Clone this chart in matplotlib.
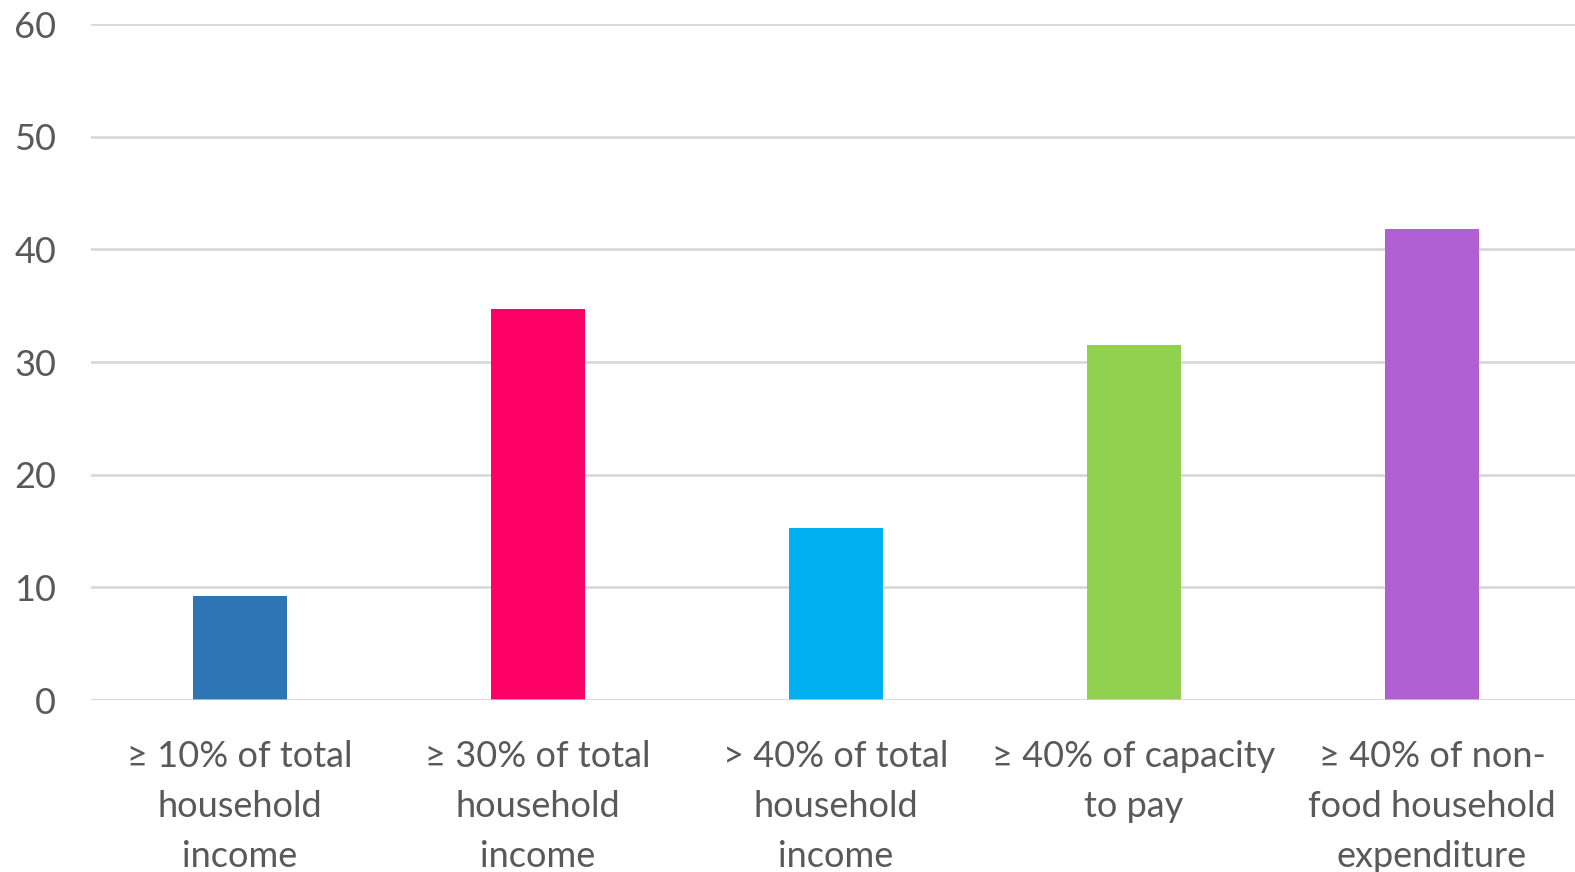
import numpy as np
import matplotlib.pyplot as plt

plt.rcParams['font.family'] = ['Lato', 'DejaVu Sans']

categories = [
    "\u2265 10% of total\nhousehold\nincome",
    "\u2265 30% of total\nhousehold\nincome",
    "> 40% of total\nhousehold\nincome",
    "\u2265 40% of capacity\nto pay",
    "\u2265 40% of non-\nfood household\nexpenditure",
]
values = [9.2, 34.7, 15.3, 31.5, 41.8]
colors = ["#2E75B6", "#FF0066", "#00B0F0", "#92D050", "#B160D4"]
yticks = [0, 10, 20, 30, 40, 50, 60]

fig = plt.figure(figsize=(15.75, 8.72), dpi=100)
ax = fig.add_axes([0.0578, 0.1972, 0.946, 0.7752])

x = np.arange(len(categories))
ax.bar(x, values, width=0.315, color=colors, zorder=2)

ax.set_ylim(0, 60)
ax.set_xlim(-0.5, len(categories) - 0.5)
ax.set_yticks(yticks)
ax.set_xticks(x)
ax.set_xticklabels(categories, linespacing=1.62)

# horizontal gridlines only, no frame
ax.yaxis.grid(True, color="#d9d9d9", linewidth=2, zorder=0)
ax.set_axisbelow(True)
for s in ax.spines.values():
    s.set_visible(False)
ax.axhline(0, color="#d9d9d9", linewidth=2, zorder=3, alpha=0.7)

ax.tick_params(axis="both", length=0, labelsize=26, labelcolor="#595959")
ax.tick_params(axis="y", pad=25)
ax.tick_params(axis="x", pad=29)

fig.savefig("out.png", dpi=100)
